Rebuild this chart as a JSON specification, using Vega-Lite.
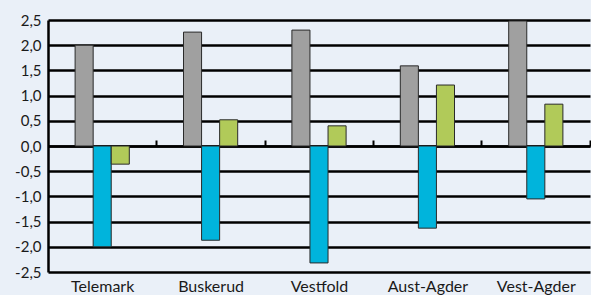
{
  "$schema": "https://vega.github.io/schema/vega-lite/v6.json",
  "width": 542,
  "height": 252,
  "autosize": {"type": "none"},
  "padding": {"left": 48, "top": 20, "right": 1, "bottom": 23},
  "background": "#EAF0F8",
  "data": {
    "values": [
      {"region": "Telemark", "serie": "Serie 1", "value": 2.0},
      {"region": "Telemark", "serie": "Serie 2", "value": -2.0},
      {"region": "Telemark", "serie": "Serie 3", "value": -0.36},
      {"region": "Buskerud", "serie": "Serie 1", "value": 2.26},
      {"region": "Buskerud", "serie": "Serie 2", "value": -1.87},
      {"region": "Buskerud", "serie": "Serie 3", "value": 0.52},
      {"region": "Vestfold", "serie": "Serie 1", "value": 2.3},
      {"region": "Vestfold", "serie": "Serie 2", "value": -2.32},
      {"region": "Vestfold", "serie": "Serie 3", "value": 0.4},
      {"region": "Aust-Agder", "serie": "Serie 1", "value": 1.59},
      {"region": "Aust-Agder", "serie": "Serie 2", "value": -1.63},
      {"region": "Aust-Agder", "serie": "Serie 3", "value": 1.21},
      {"region": "Vest-Agder", "serie": "Serie 1", "value": 2.48},
      {"region": "Vest-Agder", "serie": "Serie 2", "value": -1.05},
      {"region": "Vest-Agder", "serie": "Serie 3", "value": 0.83}
    ]
  },
  "mark": {"type": "bar", "stroke": "#2a2a2a", "strokeWidth": 1, "opacity": 1, "fillOpacity": 1},
  "encoding": {
    "x": {
      "field": "region",
      "type": "nominal",
      "sort": null,
      "scale": {"paddingInner": 0.5, "paddingOuter": 0.25},
      "title": null,
      "axis": {
        "orient": "bottom",
        "offset": -126,
        "zindex": 0,
        "domain": true,
        "domainColor": "#000000",
        "domainWidth": 2.5,
        "ticks": true,
        "tickOffset": 54,
        "tickColor": "#000000",
        "tickWidth": 2,
        "tickSize": -6,
        "labelAngle": 0,
        "labelOffset": -54,
        "labelPadding": 138,
        "labelFont": "Lato",
        "labelFontSize": 16,
        "labelColor": "#1a1a1a"
      }
    },
    "y": {
      "field": "value",
      "type": "quantitative",
      "stack": null,
      "scale": {"domain": [-2.5, 2.5], "nice": false, "zero": false},
      "title": null,
      "axis": {
        "zindex": 0,
        "values": [-2.5, -2, -1.5, -1, -0.5, 0, 0.5, 1, 1.5, 2, 2.5],
        "labelExpr": "replace(replace(format(datum.value, '.1f'), '.', ','), '−', '-')",
        "grid": true,
        "gridColor": "#000000",
        "gridWidth": 2.5,
        "gridOpacity": 1,
        "domain": true,
        "domainColor": "#000000",
        "domainWidth": 2.5,
        "ticks": false,
        "labelPadding": 7,
        "labelFont": "Lato",
        "labelFontSize": 15,
        "labelColor": "#1a1a1a"
      }
    },
    "xOffset": {"field": "serie", "type": "nominal", "scale": {"paddingInner": 0, "paddingOuter": 0}},
    "color": {
      "field": "serie",
      "type": "nominal",
      "scale": {"domain": ["Serie 1", "Serie 2", "Serie 3"], "range": ["#A0A0A0", "#00B4DC", "#B1CA59"]},
      "legend": null
    }
  },
  "config": {"view": {"stroke": null}}
}
